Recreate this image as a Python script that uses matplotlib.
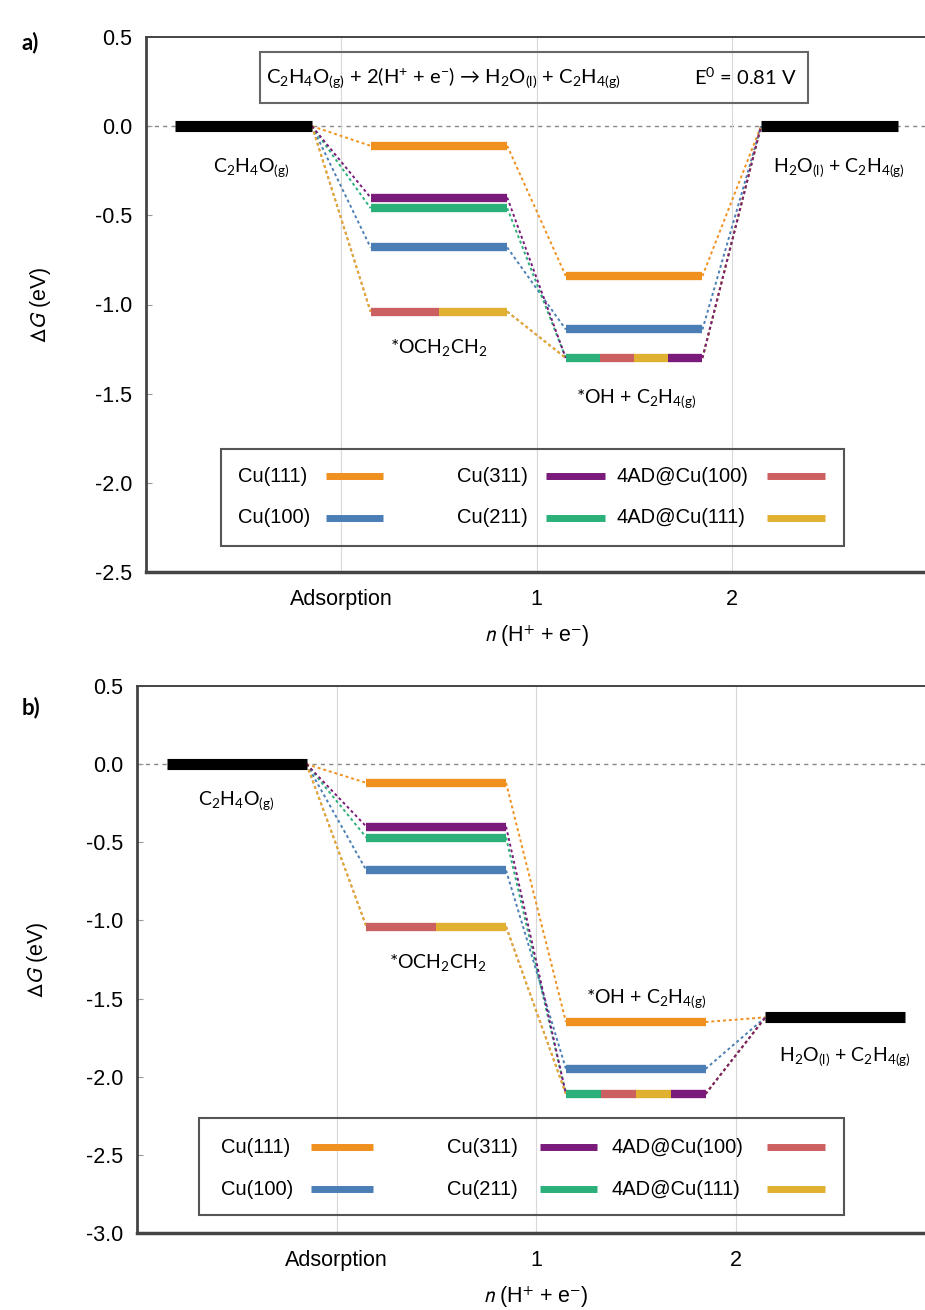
import matplotlib
matplotlib.use("Agg")
import matplotlib.pyplot as plt
from matplotlib.patches import Rectangle
from matplotlib.lines import Line2D

plt.rcParams['axes.unicode_minus'] = False
plt.rcParams['mathtext.fontset'] = 'custom'
plt.rcParams['mathtext.rm'] = 'Lato'
plt.rcParams['mathtext.it'] = 'Lato:italic'
plt.rcParams['mathtext.bf'] = 'Lato:bold'

# ---------------- data ----------------
series = ["Cu(111)", "Cu(100)", "Cu(211)", "4AD@Cu(100)", "4AD@Cu(111)", "Cu(311)"]
colors = ["#F0901E", "#4A7EB5", "#2BB07A", "#CC6060", "#E0B030", "#7A1A7A"]
legend_order = ["Cu(111)", "Cu(100)", "Cu(311)", "Cu(211)", "4AD@Cu(100)", "4AD@Cu(111)"]
xtick_labels = ["Adsorption", "1", "2"]

# panel a (U = -0.81 V)
initial_a = 0.0
ads_a = [-0.11, -0.68, -0.46, -1.04, -1.04, -0.40]
step1_a = [-0.84, -1.14, -1.30, -1.30, -1.30, -1.30]
final_a = 0.0

# panel b (U = 0 V)
initial_b = 0.0
ads_b = [-0.12, -0.68, -0.47, -1.04, -1.04, -0.40]
step1_b = [-1.65, -1.95, -2.11, -2.11, -2.11, -2.11]
final_b = -1.62

TICK_FONT = "Liberation Sans"
ANN_FONT = "Lato"

fig = plt.figure(figsize=(9.25, 13.1), dpi=100)

W, H = 925.0, 1310.0


def px_axes(l, r, t, b):
    return [l / W, 1 - b / H, (r - l) / W, (b - t) / H]


def draw_panel(ax, initial, ads, step1, final, ylim, yticks, ylabelpad):
    lo, hi = 0.15, 0.85
    # connectors
    for i, c in enumerate(colors):
        pts = [(-1 + hi, initial, 0 + lo, ads[i]),
               (0 + hi, ads[i], 1 + lo, step1[i]),
               (1 + hi, step1[i], 2 + lo, final)]
        for x0, y0, x1, y1 in pts:
            ax.plot([x0, x1], [y0, y1], color=c, lw=1.4,
                    linestyle=(0, (1.5, 1.5)), zorder=2)
    # gas-phase levels
    for k, v in [(-1, initial), (2, final)]:
        ax.plot([k + lo, k + hi], [v, v], color="black", lw=8,
                solid_capstyle="butt", zorder=4)
    # surface levels, split where values coincide
    for k, vals in [(0, ads), (1, step1)]:
        groups = {}
        for i, v in enumerate(vals):
            groups.setdefault(round(v, 3), []).append(i)
        for v, idx in groups.items():
            n = len(idx)
            w = (hi - lo) / n
            for j, i in enumerate(idx):
                ax.plot([k + lo + j * w, k + lo + (j + 1) * w], [vals[i], vals[i]],
                        color=colors[i], lw=6, solid_capstyle="butt", zorder=3)
    ax.axhline(0, color="#888888", lw=1.0, linestyle=(0, (3, 3)), zorder=1)
    ax.set_xlim(-1, 3)
    ax.set_ylim(*ylim)
    ax.set_xticks([0, 1, 2])
    ax.set_xticklabels(xtick_labels, fontfamily=TICK_FONT, fontsize=15.5)
    ax.set_yticks(yticks)
    ax.set_yticklabels(["%.1f" % t for t in yticks], fontfamily=TICK_FONT, fontsize=15.5)
    ax.grid(axis="x", color="#d8d8d8", lw=0.8)
    ax.tick_params(axis="both", direction="in", length=4, color="#999999", pad=10)
    ax.tick_params(axis="x", length=0, pad=12)
    for s in ax.spines.values():
        s.set_color("#444444")
        s.set_linewidth(1.4)
    ax.spines["bottom"].set_linewidth(2.5)
    ax.spines["left"].set_linewidth(2.0)
    ax.set_ylabel(r"$\Delta G$ (eV)", fontfamily=TICK_FONT, fontsize=15.5,
                  math_fontfamily="stixsans", labelpad=ylabelpad)
    ax.set_xlabel(r"$n$ (H$^{+}$ + e$^{-}$)", fontfamily=TICK_FONT, fontsize=15.5,
                  math_fontfamily="stixsans", labelpad=10)


def draw_legend(ax, box, rows, cols_text, cols_line):
    x0, x1, y0, y1 = box
    ax.add_patch(Rectangle((x0, y0), x1 - x0, y1 - y0, transform=ax.transAxes,
                           fill=False, edgecolor="#555555", lw=1.5, zorder=6))
    for n, name in enumerate(legend_order):
        col, row = n // 2, n % 2
        i = series.index(name)
        ax.text(cols_text[col], rows[row], name, transform=ax.transAxes,
                ha="left", va="center", fontfamily=TICK_FONT, fontsize=14.5, zorder=7)
        ax.add_line(Line2D(cols_line[col], [rows[row], rows[row]], transform=ax.transAxes,
                           color=colors[i], lw=5, solid_capstyle="butt", zorder=7))


def ann(ax, x, y, s):
    ax.text(x, y, s, ha="center", va="center", fontfamily=ANN_FONT, fontsize=14, zorder=8)


sub_g = r"$_{\rm (g)}$"
sub_l = r"$_{\rm (l)}$"
lab_init = r"C$_2$H$_4$O" + sub_g
lab_final = r"H$_2$O" + sub_l + r" + C$_2$H$_{\rm 4(g)}$"
lab_och = r"*OCH$_2$CH$_2$"
lab_oh = r"*OH + C$_2$H$_{\rm 4(g)}$"

# ---------------- panel a ----------------
axa = fig.add_axes(px_axes(146, 927, 37, 572))
draw_panel(axa, initial_a, ads_a, step1_a, final_a, (-2.5, 0.5),
           [0.5, 0.0, -0.5, -1.0, -1.5, -2.0, -2.5], 30)
ann(axa, -0.46, -0.23, lab_init)
ann(axa, 2.55, -0.23, lab_final)
ann(axa, 0.5, -1.24, lab_och)
ann(axa, 1.51, -1.53, lab_oh)
axa.add_patch(Rectangle((0.146, 0.877), 0.848 - 0.146, 0.972 - 0.877, transform=axa.transAxes,
                        fill=False, edgecolor="#666666", lw=1.5, zorder=6))
axa.text(0.154, 0.924, r"C$_2$H$_4$O" + sub_g + r" + 2(H$^{+}$ + e$^{-}$) → H$_2$O" + sub_l
         + r" + C$_2$H$_{\rm 4(g)}$", transform=axa.transAxes, ha="left", va="center",
         fontfamily=[ANN_FONT, "DejaVu Sans"], fontsize=14.5, zorder=7)
axa.text(0.833, 0.924, r"E$^{0}$ = 0.81 V", transform=axa.transAxes, ha="right", va="center",
         fontfamily=ANN_FONT, fontsize=14.5, zorder=7)
draw_legend(axa, (0.096, 0.894, 0.049, 0.230), [0.179, 0.101],
            [0.118, 0.398, 0.603], [[0.230, 0.303], [0.512, 0.588], [0.795, 0.869]])

# ---------------- panel b ----------------
axb = fig.add_axes(px_axes(137, 935, 686, 1233))
draw_panel(axb, initial_b, ads_b, step1_b, final_b, (-3.0, 0.5),
           [0.5, 0.0, -0.5, -1.0, -1.5, -2.0, -2.5, -3.0], 26)
ann(axb, -0.5, -0.23, lab_init)
ann(axb, 0.51, -1.27, lab_och)
ann(axb, 1.55, -1.50, lab_oh)
ann(axb, 2.55, -1.87, lab_final)
draw_legend(axb, (0.078, 0.886, 0.033, 0.210), [0.157, 0.080],
            [0.105, 0.388, 0.594], [[0.218, 0.296], [0.505, 0.576], [0.789, 0.862]])

fig.text(22 / W, 1 - 43 / H, "a)", fontfamily=ANN_FONT, fontweight="bold", fontsize=16,
         ha="left", va="center")
fig.text(22 / W, 1 - 708 / H, "b)", fontfamily=ANN_FONT, fontweight="bold", fontsize=16,
         ha="left", va="center")

fig.savefig("out.png", dpi=100)
